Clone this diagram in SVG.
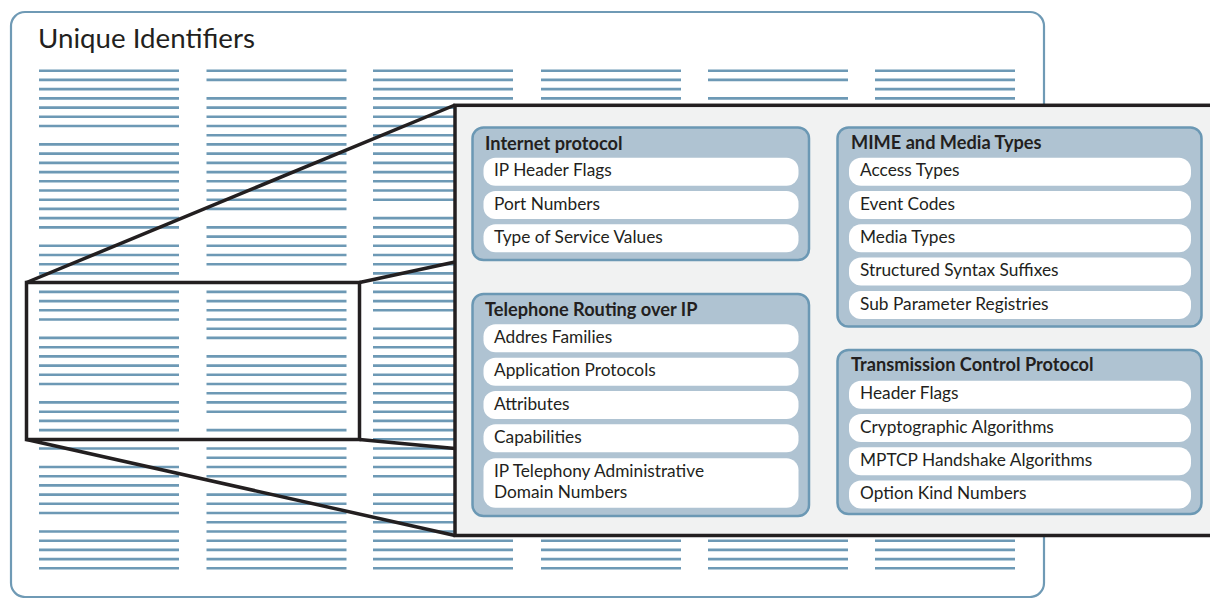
<svg xmlns="http://www.w3.org/2000/svg" width="1210" height="598" viewBox="0 0 1210 598">
<style>
.bars{fill:none;stroke:#6d99b5;stroke-width:2.6}
.frame{fill:#fff;stroke:#6f9ab5;stroke-width:2.2}
.zoom{fill:none;stroke:#231f20;stroke-width:3.5;stroke-linejoin:miter}
.panel{fill:#f1f2f2;stroke:#231f20;stroke-width:3.5}
.grp{fill:#afc3d2;stroke:#6b98b4;stroke-width:2.5}
.item{fill:#fff;stroke:none}
.t{font-family:Lato,"Liberation Sans",sans-serif;fill:#231f20}
.title{font-size:27.7px}
.gt{font-size:18.2px;font-weight:bold}
.it{font-size:17.3px}
</style>
<rect class="frame" x="11" y="12" width="1033" height="585" rx="14"/>
<text class="t title" x="38" y="48">Unique Identifiers</text>
<g id="bars">
<path class="bars" d="M39 70.7h140M39 79.9h140M39 89.1h140M39 98.4h140M39 107.6h140M39 116.8h140M39 126h140M39 144.4h140M39 153.6h140M39 162.9h140M39 172.1h140M39 181.3h140M39 190.5h140M39 199.7h140M39 208.9h140M39 218.1h140M39 227.4h140M39 245.8h140M39 255h140M39 264.2h140M39 273.4h140M39 282.7h140M39 291.9h140M39 301.1h140M39 310.3h140M39 319.5h140M39 337.9h140M39 347.2h140M39 356.4h140M39 365.6h140M39 374.8h140M39 384h140M39 402.4h140M39 411.7h140M39 420.9h140M39 430.1h140M39 439.3h140M39 448.5h140M39 467h140M39 476.2h140M39 485.4h140M39 494.6h140M39 503.8h140M39 513h140M39 531.5h140M39 540.7h140M39 549.9h140M39 559.1h140M39 568.3h140"/>
<path class="bars" d="M206.5 70.7h140M206.5 79.9h140M206.5 98.4h140M206.5 107.6h140M206.5 116.8h140M206.5 126h140M206.5 135.2h140M206.5 144.4h140M206.5 153.6h140M206.5 162.9h140M206.5 172.1h140M206.5 181.3h140M206.5 190.5h140M206.5 199.7h140M206.5 208.9h140M206.5 227.4h140M206.5 236.6h140M206.5 245.8h140M206.5 255h140M206.5 264.2h140M206.5 282.7h140M206.5 291.9h140M206.5 301.1h140M206.5 310.3h140M206.5 319.5h140M206.5 328.7h140M206.5 337.9h140M206.5 356.4h140M206.5 365.6h140M206.5 374.8h140M206.5 384h140M206.5 393.2h140M206.5 402.4h140M206.5 411.7h140M206.5 430.1h140M206.5 439.3h140M206.5 448.5h140M206.5 457.7h140M206.5 467h140M206.5 476.2h140M206.5 494.6h140M206.5 503.8h140M206.5 513h140M206.5 522.2h140M206.5 531.5h140M206.5 540.7h140M206.5 549.9h140M206.5 559.1h140M206.5 568.3h140"/>
<path class="bars" d="M373 70.7h140M373 79.9h140M373 89.1h140M373 98.4h140M373 107.6h140M373 116.8h140M373 126h140M373 135.2h140M373 144.4h140M373 153.6h140M373 162.9h140M373 172.1h140M373 181.3h140M373 190.5h140M373 199.7h140M373 218.1h140M373 227.4h140M373 236.6h140M373 245.8h140M373 255h140M373 264.2h140M373 273.4h140M373 282.7h140M373 291.9h140M373 301.1h140M373 310.3h140M373 328.7h140M373 337.9h140M373 347.2h140M373 356.4h140M373 365.6h140M373 374.8h140M373 384h140M373 393.2h140M373 402.4h140M373 411.7h140M373 420.9h140M373 430.1h140M373 439.3h140M373 448.5h140M373 457.7h140M373 467h140M373 476.2h140M373 494.6h140M373 503.8h140M373 513h140M373 522.2h140M373 531.5h140M373 540.7h140M373 549.9h140M373 559.1h140M373 568.3h140"/>
<path class="bars" d="M541 70.7h140M541 79.9h140M541 89.1h140M541 98.4h140M541 540.7h140M541 549.9h140M541 559.1h140M541 568.3h140"/>
<path class="bars" d="M708 70.7h140M708 79.9h140M708 98.4h140M708 540.7h140M708 549.9h140M708 559.1h140M708 568.3h140"/>
<path class="bars" d="M875 70.7h140M875 79.9h140M875 89.1h140M875 98.4h140M875 540.7h140M875 549.9h140M875 559.1h140M875 568.3h140"/>
</g>
<g id="connectors">
<rect class="zoom" x="26.5" y="282.5" width="333" height="157"/>
<path class="zoom" d="M26.5 282.5L455 105M359.5 282.5L455 262M359.5 439.5L455 448.5M26.5 439.5L455 535.5"/>
</g>
<rect id="panel" class="panel" x="455" y="105.3" width="800" height="430.2"/>
<g id="internet-protocol">
<rect class="grp" x="472.5" y="127.5" width="336.5" height="132.5" rx="11"/>
<text class="t gt" x="485" y="149.5">Internet protocol</text>
<rect class="item" x="483.5" y="157.7" width="315" height="28" rx="12"/>
<text class="t it" x="494" y="176.3">IP Header Flags</text>
<rect class="item" x="483.5" y="191" width="315" height="28" rx="12"/>
<text class="t it" x="494" y="209.6">Port Numbers</text>
<rect class="item" x="483.5" y="224.3" width="315" height="28" rx="12"/>
<text class="t it" x="494" y="242.9">Type of Service Values</text>
</g>
<g id="telephone-routing">
<rect class="grp" x="472.5" y="294" width="336.5" height="222" rx="11"/>
<text class="t gt" x="485" y="315.7">Telephone Routing over IP</text>
<rect class="item" x="483.5" y="324.3" width="315" height="28" rx="12"/>
<text class="t it" x="494" y="343">Addres Families</text>
<rect class="item" x="483.5" y="357.7" width="315" height="28" rx="12"/>
<text class="t it" x="494" y="376.3">Application Protocols</text>
<rect class="item" x="483.5" y="391" width="315" height="28" rx="12"/>
<text class="t it" x="494" y="409.6">Attributes</text>
<rect class="item" x="483.5" y="424.3" width="315" height="28" rx="12"/>
<text class="t it" x="494" y="442.9">Capabilities</text>
<rect class="item" x="483.5" y="458.3" width="315" height="49.4" rx="12"/>
<text class="t it" x="494" y="476.5">IP Telephony Administrative</text>
<text class="t it" x="494" y="498">Domain Numbers</text>
</g>
<g id="mime-media">
<rect class="grp" x="837.5" y="127.5" width="364" height="199" rx="11"/>
<text class="t gt" x="851" y="149">MIME and Media Types</text>
<rect class="item" x="849" y="157.7" width="342" height="28" rx="12"/>
<text class="t it" x="860" y="176.3">Access Types</text>
<rect class="item" x="849" y="191" width="342" height="28" rx="12"/>
<text class="t it" x="860" y="209.6">Event Codes</text>
<rect class="item" x="849" y="224.3" width="342" height="28" rx="12"/>
<text class="t it" x="860" y="242.9">Media Types</text>
<rect class="item" x="849" y="257.6" width="342" height="28" rx="12"/>
<text class="t it" x="860" y="276.2">Structured Syntax Suffixes</text>
<rect class="item" x="849" y="290.9" width="342" height="28" rx="12"/>
<text class="t it" x="860" y="309.5">Sub Parameter Registries</text>
</g>
<g id="tcp">
<rect class="grp" x="837.5" y="350" width="364" height="164" rx="11"/>
<text class="t gt" x="851" y="371.3">Transmission Control Protocol</text>
<rect class="item" x="849" y="380.7" width="342" height="28" rx="12"/>
<text class="t it" x="860" y="399.3">Header Flags</text>
<rect class="item" x="849" y="414" width="342" height="28" rx="12"/>
<text class="t it" x="860" y="432.6">Cryptographic Algorithms</text>
<rect class="item" x="849" y="447.3" width="342" height="28" rx="12"/>
<text class="t it" x="860" y="465.9">MPTCP Handshake Algorithms</text>
<rect class="item" x="849" y="480.6" width="342" height="28" rx="12"/>
<text class="t it" x="860" y="499.2">Option Kind Numbers</text>
</g>
</svg>
